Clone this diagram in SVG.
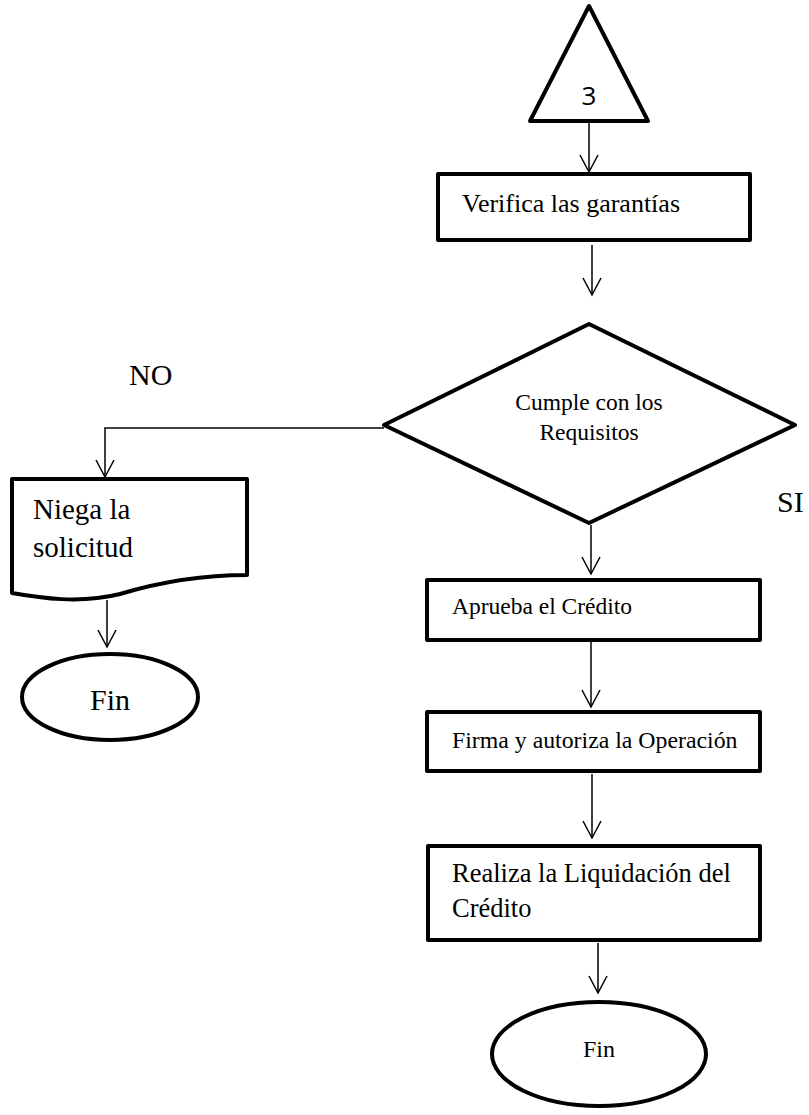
<svg xmlns="http://www.w3.org/2000/svg" width="809" height="1115" viewBox="0 0 809 1115">
  <style>
    .shape { fill: #ffffff; stroke: #000000; stroke-width: 4; stroke-linejoin: round; }
    .conn { fill: none; stroke: #000000; stroke-width: 1.5; }
    .serif { font-family: "Liberation Serif", "Times New Roman", serif; fill: #000000; }
    .sans { font-family: "Open Sans", "Liberation Sans", sans-serif; fill: #000000; }
  </style>
  <defs>
    <!-- open V arrowhead, tip at the line end -->
    <marker id="arrow" viewBox="0 0 20 20" refX="18" refY="10" markerWidth="20" markerHeight="20" markerUnits="userSpaceOnUse" orient="auto">
      <path d="M1 1 L18 10 L1 19" fill="none" stroke="#000" stroke-width="1.5"/>
    </marker>
  </defs>

  <!-- connectors -->
  <g id="connectors">
    <line class="conn" x1="589" y1="123" x2="589" y2="172" marker-end="url(#arrow)"/>
    <line class="conn" x1="592" y1="245" x2="592" y2="295" marker-end="url(#arrow)"/>
    <polyline class="conn" points="384,428 105,428 105,477" marker-end="url(#arrow)"/>
    <line class="conn" x1="107" y1="600" x2="107" y2="647" marker-end="url(#arrow)"/>
    <line class="conn" x1="591" y1="525" x2="591" y2="574" marker-end="url(#arrow)"/>
    <line class="conn" x1="591" y1="642" x2="591" y2="707" marker-end="url(#arrow)"/>
    <line class="conn" x1="592" y1="774" x2="592" y2="838" marker-end="url(#arrow)"/>
    <line class="conn" x1="598" y1="943" x2="598" y2="993" marker-end="url(#arrow)"/>
  </g>

  <!-- off-page connector 3 -->
  <g id="connector-3">
    <polygon class="shape" points="589,6 530,121 648,121"/>
    <text class="sans" x="589" y="105" font-size="26" text-anchor="middle">3</text>
  </g>

  <g id="verifica">
    <rect class="shape" x="438" y="174" width="312" height="66"/>
    <text class="serif" x="462" y="212" font-size="26">Verifica las garantías</text>
  </g>

  <g id="decision">
    <polygon class="shape" points="589,324 795,425 589,523 384,425"/>
    <text class="serif" x="589" y="410" font-size="23.5" text-anchor="middle">Cumple con los</text>
    <text class="serif" x="589" y="440" font-size="23.5" text-anchor="middle">Requisitos</text>
  </g>

  <text id="label-no" class="serif" x="129" y="385" font-size="30">NO</text>
  <text id="label-si" class="serif" x="777" y="512" font-size="30">SI</text>

  <g id="niega">
    <path class="shape" d="M12 479 L247 479 L247 575 C200 575 160 582 120 594 C80 604 40 598 12 593 Z"/>
    <text class="serif" x="33" y="519" font-size="29">Niega la</text>
    <text class="serif" x="33" y="557" font-size="29">solicitud</text>
  </g>

  <g id="fin-no">
    <ellipse class="shape" cx="110" cy="697" rx="88" ry="43"/>
    <text class="serif" x="110" y="710" font-size="30" text-anchor="middle">Fin</text>
  </g>

  <g id="aprueba">
    <rect class="shape" x="427" y="580" width="333" height="60"/>
    <text class="serif" x="452" y="614" font-size="23.5">Aprueba el Crédito</text>
  </g>

  <g id="firma">
    <rect class="shape" x="427" y="712" width="333" height="59"/>
    <text class="serif" x="452" y="748" font-size="23.8">Firma y autoriza la Operación</text>
  </g>

  <g id="liquidacion">
    <rect class="shape" x="428" y="846" width="332" height="94"/>
    <text class="serif" x="452" y="882" font-size="26.5">Realiza la Liquidación del</text>
    <text class="serif" x="452" y="917" font-size="26.5">Crédito</text>
  </g>

  <g id="fin-si">
    <ellipse class="shape" cx="599" cy="1054" rx="107" ry="52"/>
    <text class="serif" x="599" y="1057" font-size="24" text-anchor="middle">Fin</text>
  </g>
</svg>
